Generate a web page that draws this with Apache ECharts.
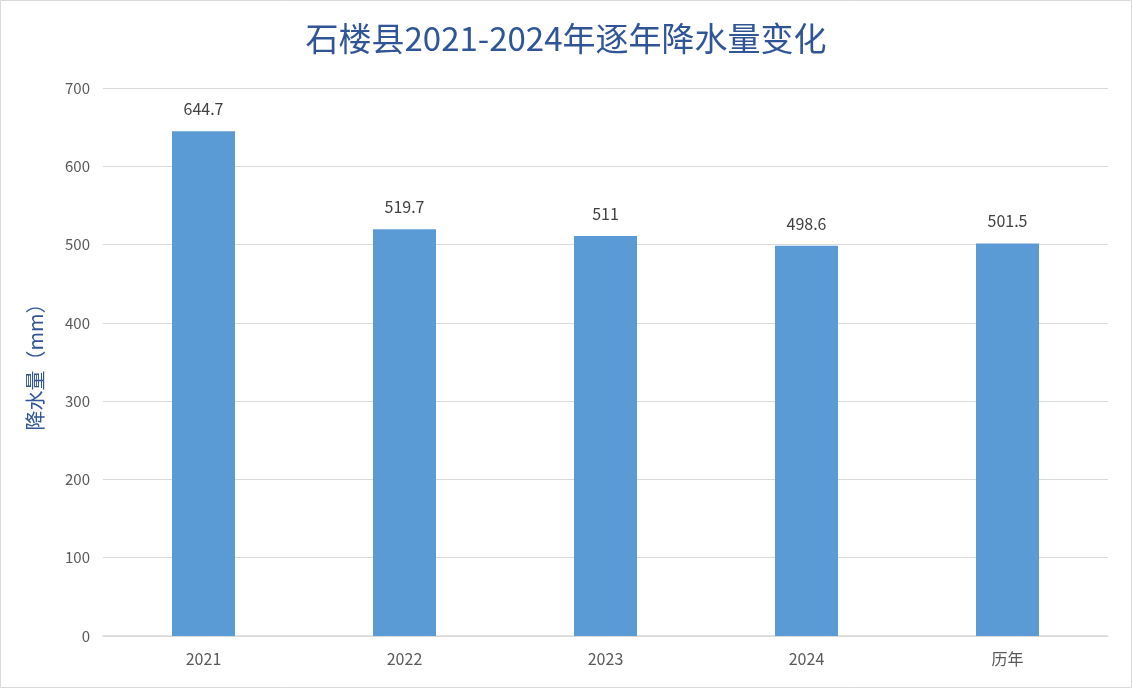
<!DOCTYPE html>
<html><head><meta charset="utf-8">
<script src="https://cdn.jsdelivr.net/npm/echarts@6/dist/echarts.min.js"></script>
<style>html,body{margin:0;padding:0;background:#fff}#c{width:1132px;height:688px}</style>
</head><body><div id="c"></div>
<script>
const categories = ['2021', '2022', '2023', '2024', '历年'];
const values = [644.7, 519.7, 511, 498.6, 501.5];
const titleText = '石楼县2021-2024年逐年降水量变化';
const yName = '降水量（mm）';

const chart = echarts.init(document.getElementById('c'));
const font = '"Microsoft YaHei","Noto Sans CJK SC","Open Sans",sans-serif';
chart.setOption({
  backgroundColor: '#fff',
  animation: false,
  graphic: [{type:'rect', shape:{x:0.5,y:0.5,width:1131,height:687}, style:{fill:'none', stroke:'#d9d9d9', lineWidth:1}, z:-1}],
  title: {text: titleText, left: 'center', top: 17,
    textStyle: {color:'#2F5597', fontSize: 33, fontWeight:'normal', fontFamily: font}},
  grid: {left: 103, right: 24, top: 88, bottom: 52},
  xAxis: {type:'category', data: categories,
    axisLine:{lineStyle:{color:'#d9d9d9', width:1.5}}, axisTick:{show:false},
    axisLabel:{color:'#595959', fontSize:16, margin:15, fontFamily: font}},
  yAxis: {type:'value', min:0, max:700, interval:100,
    name: yName, nameLocation:'middle', nameGap:58, nameRotate:90,
    nameTextStyle:{color:'#2F5597', fontSize:20, fontFamily: font},
    axisLine:{show:false}, axisTick:{show:false},
    axisLabel:{color:'#595959', fontSize:15, margin:13, fontFamily: font},
    splitLine:{lineStyle:{color:'#d9d9d9', width:1}}},
  series: [{type:'bar', data: values, barWidth: 63,
    itemStyle:{color:'#5B9BD5'},
    label:{show:true, position:'top', distance:14, color:'#404040', fontSize:16, fontFamily: font}}]
});
</script></body></html>
